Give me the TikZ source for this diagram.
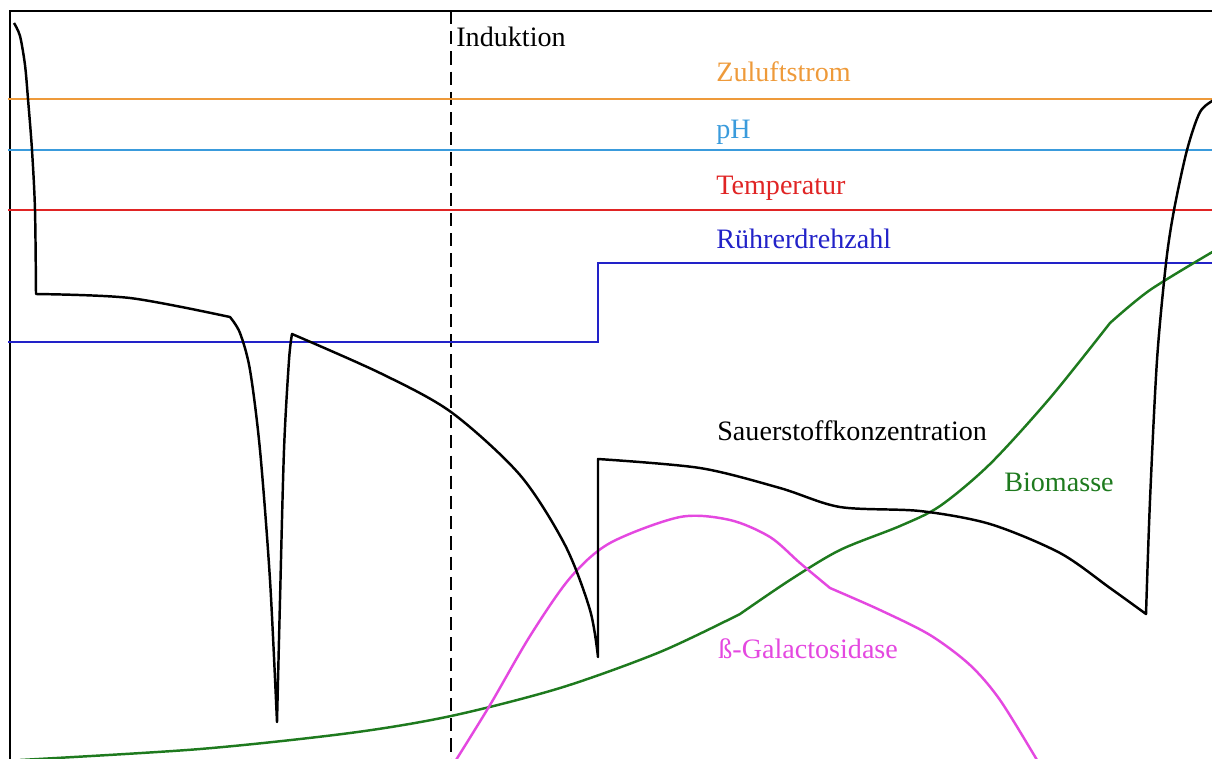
\documentclass[tikz,border=0pt]{standalone}
\usepackage{fontspec}
\setmainfont{Liberation Serif}
\definecolor{zuluft}{HTML}{EE9A3A}
\definecolor{phblau}{HTML}{3A9BDC}
\definecolor{temprot}{HTML}{E02424}
\definecolor{ruehrer}{HTML}{2222C8}
\definecolor{biogruen}{HTML}{1E7A1E}
\definecolor{galmag}{HTML}{E448E0}
\tikzset{
  kurve/.style={line width=1.4pt, line join=round},
  linie/.style={line width=1.3pt},
  beschr/.style={anchor=base west, inner sep=0pt}
}
\begin{document}
\begin{tikzpicture}[x=0.02cm, y=-0.02cm, font=\fontsize{16}{19}\selectfont]
\useasboundingbox (0,0) rectangle (1212,758);

\draw[linie] (10,760) -- (10,11) -- (1212,11);
\draw[linie, dash pattern=on 7.5pt off 4pt] (451,11) -- (451,760);

\draw[linie, zuluft]  (8,99)  -- (1212,99);
\draw[linie, phblau]  (8,150) -- (1212,150);
\draw[linie, temprot] (8,210) -- (1212,210);
\draw[linie, ruehrer] (8,342) -- (598,342) -- (598,263) -- (1212,263);

\draw[kurve, biogruen] plot[smooth] coordinates {(20,760) (200,749) (350,733) (451,716) (560,688) (660,652) (740,614)}
  -- plot[smooth] coordinates {(740,614) (790,580) (840,550) (900,526) (940,506) (990,464) (1050,398) (1110,323)}
  -- plot[smooth] coordinates {(1110,323) (1150,290) (1214,251)};

\draw[kurve, galmag] plot[smooth] coordinates {(456,760) (490,705) (530,636) (570,578) (610,543) (680,517) (730,520) (770,537) (800,563) (830,588)}
  -- plot[smooth] coordinates {(830,588) (880,610) (930,635) (970,665) (1000,700) (1037,760)};

\draw[kurve] plot[smooth] coordinates {(14,23) (20,36) (25,65) (28,99) (32,150) (35,210) (36,294)}
  -- plot[smooth] coordinates {(36,294) (130,298) (230,317)}
  -- plot[smooth] coordinates {(230,317) (240,333) (250,370) (260,450) (270,580) (277,722)}
  -- plot[smooth] coordinates {(277,722) (280,600) (284,450) (289,360) (292,334)}
  -- plot[smooth] coordinates {(292,334) (380,373) (451,412) (520,475) (565,545) (590,610) (598,657)}
  -- (598,459)
  -- plot[smooth] coordinates {(598,459) (700,468) (780,488) (840,507) (920,511) (990,524) (1060,553) (1110,588) (1146,614)}
  -- plot[smooth] coordinates {(1146,614) (1150,500) (1157,360) (1166,263) (1174,210) (1187,150) (1200,112) (1214,100)};

\node[beschr] (induktion) at (456,46) {Induktion};
\node[beschr, text=zuluft]  (zuluftlbl) at (716,81)  {Zuluftstrom};
\node[beschr, text=phblau]  (phlbl)     at (716,138) {pH};
\node[beschr, text=temprot] (templbl)   at (716,194) {Temperatur};
\node[beschr, text=ruehrer] (ruehrlbl)  at (716,248) {Rührerdrehzahl};
\node[beschr] (o2lbl) at (717,440) {Sauerstoffkonzentration};
\node[beschr, text=biogruen] (biolbl) at (1004,491) {Biomasse};
\node[beschr, text=galmag] (gallbl) at (718,658) {ß-Galactosidase};
\end{tikzpicture}
\end{document}
